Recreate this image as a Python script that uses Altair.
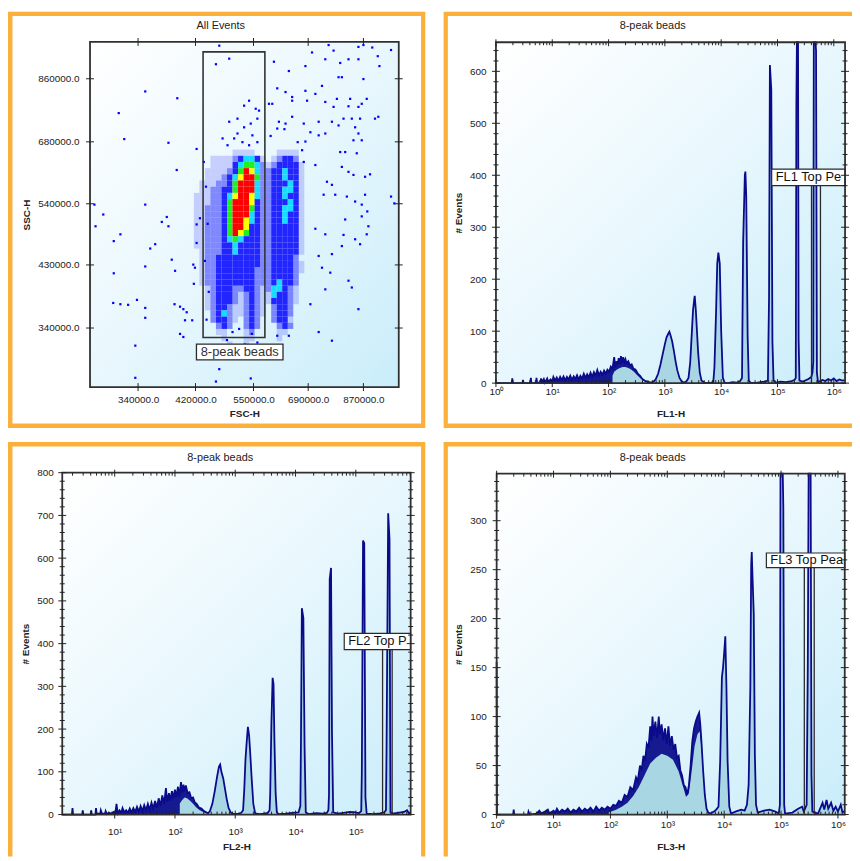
import altair as alt
import numpy as np
import pandas as pd

FONT = "Liberation Sans"
INK = "#222222"
NAVY = "#0A0A8A"
FILL = "#A9D6E3"
ORANGE = "#FBB03B"
BOXC = "#2a2a2a"

# ---------------- text ----------------
panel_titles = ["All Events", "8-peak beads", "8-peak beads", "8-peak beads"]
hist_x_titles = ["FL1-H", "FL2-H", "FL3-H"]
gate_labels = ["FL1 Top Peak", "FL2 Top Peak", "FL3 Top Peak"]
scatter_gate_label = "8-peak beads"
decade_labels = ["10⁰", "10¹", "10²", "10³", "10⁴", "10⁵", "10⁶"]

# ---------------- scatter (log10 units) ----------------
fsc_ticks = [5.529, 5.633, 5.738, 5.837, 5.937]
fsc_tick_labels = ["340000.0", "420000.0", "550000.0", "690000.0", "870000.0"]
ssc_ticks = [5.5315, 5.6335, 5.7324, 5.8325, 5.9345]
ssc_tick_labels = ["340000.0", "430000.0", "540000.0", "680000.0", "860000.0"]

fsc_bin_edges = [5.60, 5.61, 5.62, 5.63, 5.64, 5.65, 5.66, 5.67, 5.68, 5.69, 5.70, 5.71, 5.72, 5.73,
                 5.74, 5.75, 5.76, 5.77, 5.78, 5.79, 5.80, 5.81, 5.82, 5.83, 5.84, 5.85, 5.86]
ssc_bin_edges = [5.82, 5.81, 5.80, 5.79, 5.78, 5.77, 5.76, 5.75, 5.74, 5.73, 5.72, 5.71, 5.70, 5.69,
                 5.68, 5.67, 5.66, 5.65, 5.64, 5.63, 5.62, 5.61, 5.60, 5.59, 5.58, 5.57, 5.56, 5.55,
                 5.54, 5.53, 5.52, 5.51, 5.50]
# density level per cell: . sparse, : medium, b dense blue, c cyan, g green, y yellow, r red
density_rows = [
    "          ....    ....    ",
    "      ....:bccb. .:bb:    ",
    "      ....bcggc:.:bbbb.   ",
    "     ....:bgryc::bbcbb.   ",
    "     ...:bcyrrg::bbcbb.   ",
    "    ...::bgrrrc::bbbcb.   ",
    "    ..::bbgrrrc::bbccb.   ",
    "   ...::bcyrryc::bbcbb.   ",
    "   ...::bgrrryb::bbbcb.   ",
    "   ..:::bgrrrgb::bbccb.   ",
    "   ..:::bgrrrcb::bbcbb.   ",
    "   ..:::bgrrycb::bbcbb.   ",
    "   ..:::bgrrybb::bbbbb.   ",
    "   ..:::bgrygbb::bbbbb.   ",
    "   ..:::bcgcbbb::bbbbb.   ",
    "   ..:::bbcbbbb::bbbbb.   ",
    "    .:::bbcbbbb::bbbbb.   ",
    "    .::bbbbbbbb::bbbb:    ",
    "    .::bbbbbbbb::bbbb:.   ",
    "    .::bbbbbbb:::bbbb:.   ",
    "    .::bbbbbbb:::bbbb:    ",
    "    .::bbbbbbb:::bcbb:    ",
    "     .:bbb::bb:.:ccb:.    ",
    "     .:bbb:.:b:..cbb:.    ",
    "     .:bbb:.:b:..bbb:.    ",
    "     .:bb:..:b:. :bb:     ",
    "      :bc:..:b:. :bb:     ",
    "      :bb:. :b:  :bb.     ",
    "       :b:  :b:   :b:     ",
    "       ..   .:    ..      ",
    "        .   ..    .       ",
    "         .  .             ",
]
level_colors = {".": "#0000FF", ":": "#0000FF", "b": "#0000FF", "c": "#00D8FF",
                "g": "#20F020", "y": "#FFFF00", "r": "#FF0000"}
level_opacity = {".": 0.17, ":": 0.45, "b": 0.85, "c": 0.9, "g": 1.0, "y": 1.0, "r": 1.0}

outlier_points = [
    (5.676, 5.988), (5.694, 5.967), (5.670, 5.958), (5.542, 5.914), (5.600, 5.903), (5.494, 5.879),
    (5.504, 5.837), (5.584, 5.831), (5.635, 5.821), (5.599, 5.787), (5.542, 5.731), (5.450, 5.731),
    (5.466, 5.715), (5.452, 5.696), (5.581, 5.711), (5.572, 5.703), (5.584, 5.696), (5.485, 5.672),
    (5.497, 5.683), (5.551, 5.660), (5.560, 5.667), (5.542, 5.631), (5.485, 5.620), (5.590, 5.642),
    (5.596, 5.624), (5.629, 5.634), (5.632, 5.629), (5.630, 5.603), (5.484, 5.572), (5.497, 5.570),
    (5.511, 5.569), (5.527, 5.577), (5.542, 5.564), (5.542, 5.548), (5.595, 5.570), (5.605, 5.566),
    (5.611, 5.562), (5.617, 5.557), (5.614, 5.544), (5.605, 5.522), (5.611, 5.517), (5.627, 5.544),
    (5.524, 5.503), (5.524, 5.451), (5.676, 5.465), (5.670, 5.445), (5.733, 5.450), (5.635, 5.669),
    (5.641, 5.709), (5.635, 5.699), (5.709, 5.870), (5.721, 5.856), (5.730, 5.899), (5.742, 5.886),
    (5.748, 5.883), (5.745, 5.870), (5.721, 5.891), (5.694, 5.865), (5.703, 5.838), (5.718, 5.832),
    (5.730, 5.827), (5.691, 5.827), (5.736, 5.843), (5.709, 5.846), (5.745, 5.832), (5.682, 5.838),
    (5.733, 5.862), (5.775, 5.962), (5.802, 5.947), (5.874, 5.989), (5.883, 5.980), (5.928, 5.986),
    (5.937, 5.989), (5.953, 5.985), (5.987, 5.981), (5.844, 5.977), (5.868, 5.966), (5.895, 5.960),
    (5.910, 5.966), (5.928, 5.966), (5.963, 5.971), (5.966, 5.955), (5.832, 5.955), (5.892, 5.937),
    (5.898, 5.937), (5.937, 5.934), (5.781, 5.919), (5.796, 5.913), (5.808, 5.905), (5.808, 5.899),
    (5.832, 5.915), (5.835, 5.899), (5.850, 5.910), (5.862, 5.923), (5.868, 5.897), (5.889, 5.902),
    (5.883, 5.889), (5.910, 5.890), (5.913, 5.902), (5.928, 5.889), (5.934, 5.894), (5.931, 5.870),
    (5.943, 5.902), (5.958, 5.870), (5.964, 5.873), (5.796, 5.862), (5.781, 5.854), (5.784, 5.865),
    (5.766, 5.894), (5.772, 5.894), (5.808, 5.873), (5.829, 5.862), (5.856, 5.865), (5.880, 5.865),
    (5.892, 5.859), (5.901, 5.870), (5.916, 5.870), (5.922, 5.856), (5.928, 5.846), (5.934, 5.835),
    (5.919, 5.835), (5.868, 5.846), (5.856, 5.843), (5.841, 5.848), (5.832, 5.833), (5.769, 5.842),
    (5.794, 5.853), (5.818, 5.832), (5.895, 5.816), (5.904, 5.816), (5.925, 5.814), (5.826, 5.819),
    (5.829, 5.800), (5.850, 5.795), (5.898, 5.792), (5.910, 5.784), (5.919, 5.779), (5.940, 5.776),
    (5.949, 5.780), (5.871, 5.768), (5.880, 5.763), (5.886, 5.747), (5.865, 5.747), (5.907, 5.744),
    (5.922, 5.736), (5.934, 5.731), (5.940, 5.747), (5.987, 5.744), (5.944, 5.720), (5.904, 5.707),
    (5.934, 5.712), (5.946, 5.696), (5.850, 5.692), (5.868, 5.683), (5.901, 5.682), (5.922, 5.675),
    (5.931, 5.667), (5.943, 5.683), (5.898, 5.664), (5.880, 5.651), (5.856, 5.648), (5.862, 5.629),
    (5.877, 5.621), (5.910, 5.608), (5.916, 5.597), (5.868, 5.594), (5.841, 5.570), (5.928, 5.562),
    (5.856, 5.525), (5.880, 5.511), (5.802, 5.519), (5.781, 5.519), (5.993, 5.733),
    (5.652, 5.760), (5.655, 5.700), (5.650, 5.640), (5.657, 5.590), (5.653, 5.545), (5.648, 5.800),
    (5.700, 5.525), (5.712, 5.530), (5.735, 5.522), (5.690, 5.512), (5.745, 5.508), (5.722, 5.505),
]
scatter_gate = [5.6467, 5.7586, 5.5162, 5.9779]        # x0, x1, y0, y1
scatter_label_box = [5.6347, 5.7914, 5.4799, 5.5056]   # x0, x1, y0, y1

# ---------------- histograms (x = log10 channel value, y = events) ----------------
fl1_points = [
    (0.00, 0), (0.28, 0), (0.29, 9), (0.30, 0), (0.47, 0), (0.48, 6), (0.49, 0), (0.61, 0), (0.62, 10),
    (0.63, 0), (0.71, 0), (0.72, 10), (0.73, 1), (0.79, 1), (0.80, 9), (0.82, 2), (0.85, 8), (0.87, 1),
    (0.91, 9), (0.93, 2), (0.97, 7), (1.00, 3), (1.02, 12), (1.05, 5), (1.08, 11), (1.11, 4), (1.14, 12),
    (1.17, 6), (1.20, 13), (1.23, 5), (1.26, 12), (1.29, 7), (1.32, 14), (1.35, 6), (1.38, 13), (1.41, 8),
    (1.44, 15), (1.47, 7), (1.50, 14), (1.53, 9), (1.56, 18), (1.59, 10), (1.62, 17), (1.65, 11),
    (1.68, 20), (1.71, 12), (1.74, 21), (1.77, 14), (1.80, 25), (1.83, 15), (1.86, 22), (1.89, 16),
    (1.92, 24), (1.95, 18), (1.98, 26), (2.01, 22), (2.04, 32), (2.07, 28), (2.10, 50), (2.12, 30),
    (2.14, 42), (2.16, 35), (2.18, 48), (2.20, 36), (2.22, 52), (2.24, 38), (2.26, 50), (2.28, 40),
    (2.30, 46), (2.32, 38), (2.35, 42), (2.38, 34), (2.41, 36), (2.44, 28), (2.48, 26), (2.52, 18),
    (2.56, 14), (2.60, 8), (2.64, 5), (2.68, 3), (2.72, 2), (2.76, 1), (2.80, 3), (2.84, 8), (2.88, 18),
    (2.92, 35), (2.96, 55), (3.00, 75), (3.03, 88), (3.06, 95), (3.08, 99), (3.10, 92), (3.13, 80),
    (3.16, 62), (3.19, 42), (3.22, 25), (3.26, 10), (3.30, 3), (3.34, 1), (3.38, 3), (3.42, 10),
    (3.45, 40), (3.48, 100), (3.50, 140), (3.52, 160), (3.53, 168), (3.55, 140), (3.57, 100), (3.59, 60),
    (3.62, 20), (3.65, 5), (3.70, 1), (3.76, 0), (3.82, 1), (3.86, 2), (3.88, 30), (3.91, 140),
    (3.93, 230), (3.95, 251), (3.975, 230), (4.00, 100), (4.03, 10), (4.06, 1), (4.12, 0), (4.20, 2),
    (4.28, 1), (4.33, 3), (4.37, 10), (4.39, 270), (4.42, 400), (4.43, 407), (4.445, 360), (4.47, 90),
    (4.49, 5), (4.52, 1), (4.60, 0), (4.70, 2), (4.78, 3), (4.83, 5), (4.85, 165), (4.865, 612),
    (4.89, 565), (4.91, 80), (4.93, 5), (4.97, 1), (5.05, 3), (5.15, 2), (5.25, 4), (5.30, 6),
    (5.325, 10), (5.335, 535), (5.345, 720), (5.365, 720), (5.375, 85), (5.39, 5), (5.45, 3), (5.55, 8),
    (5.60, 12), (5.62, 20), (5.635, 40), (5.645, 720), (5.675, 720), (5.685, 640), (5.70, 20), (5.72, 2),
    (5.80, 6), (5.85, 4), (5.90, 8), (5.95, 5), (6.00, 9), (6.05, 4), (6.10, 7), (6.15, 5), (6.20, 6),
]
fl2_points = [
    (0.13, 0), (0.29, 0), (0.30, 15), (0.31, 0), (0.46, 0), (0.47, 10), (0.48, 0), (0.60, 0), (0.61, 10),
    (0.62, 0), (0.68, 0), (0.69, 15), (0.70, 2), (0.76, 2), (0.77, 10), (0.79, 2), (0.84, 2), (0.85, 8),
    (0.87, 1), (0.90, 4), (0.95, 2), (0.98, 6), (1.01, 2), (1.03, 25), (1.05, 3), (1.08, 10), (1.11, 4),
    (1.13, 15), (1.16, 5), (1.19, 10), (1.22, 4), (1.25, 14), (1.28, 5), (1.31, 15), (1.34, 6),
    (1.37, 18), (1.40, 7), (1.43, 20), (1.46, 8), (1.49, 22), (1.52, 10), (1.55, 25), (1.58, 11),
    (1.61, 28), (1.64, 14), (1.67, 32), (1.70, 16), (1.73, 38), (1.76, 20), (1.79, 45), (1.82, 25),
    (1.85, 62), (1.87, 30), (1.90, 50), (1.92, 32), (1.95, 55), (1.97, 38), (2.00, 58), (2.02, 40),
    (2.05, 65), (2.07, 42), (2.10, 76), (2.12, 50), (2.14, 70), (2.16, 55), (2.18, 68), (2.21, 50),
    (2.24, 52), (2.27, 38), (2.30, 40), (2.33, 28), (2.36, 25), (2.40, 16), (2.44, 14), (2.48, 8),
    (2.52, 5), (2.55, 3), (2.58, 8), (2.62, 25), (2.66, 55), (2.70, 90), (2.73, 112), (2.75, 117),
    (2.77, 100), (2.80, 85), (2.83, 60), (2.86, 35), (2.89, 15), (2.93, 4), (2.98, 1), (3.05, 2),
    (3.10, 4), (3.13, 10), (3.15, 60), (3.17, 130), (3.19, 170), (3.21, 205), (3.23, 185), (3.25, 140),
    (3.27, 90), (3.30, 25), (3.33, 3), (3.40, 1), (3.48, 2), (3.54, 4), (3.57, 10), (3.58, 50),
    (3.60, 215), (3.62, 320), (3.635, 305), (3.65, 173), (3.67, 50), (3.69, 5), (3.72, 1), (3.85, 2),
    (3.95, 4), (4.05, 5), (4.08, 20), (4.09, 170), (4.105, 483), (4.13, 460), (4.15, 160), (4.17, 5),
    (4.22, 1), (4.35, 3), (4.45, 2), (4.52, 4), (4.545, 10), (4.555, 45), (4.567, 551), (4.589, 577),
    (4.605, 190), (4.625, 5), (4.70, 2), (4.80, 4), (4.90, 6), (5.00, 5), (5.05, 3), (5.09, 8),
    (5.10, 100), (5.12, 641), (5.14, 635), (5.16, 40), (5.18, 2), (5.30, 1), (5.40, 3), (5.47, 5),
    (5.50, 10), (5.51, 155), (5.537, 705), (5.559, 645), (5.575, 5), (5.60, 2), (5.70, 4), (5.80, 6),
    (5.85, 10), (5.88, 3), (5.91, 5),
]
fl3_points = [
    (0.00, 156), (0.005, 0), (0.29, 0), (0.30, 5), (0.31, 0), (0.55, 0), (0.56, 3), (0.58, 0), (0.70, 1),
    (0.75, 4), (0.78, 1), (0.85, 3), (0.90, 5), (0.93, 1), (1.00, 4), (1.03, 2), (1.06, 6), (1.10, 2),
    (1.15, 5), (1.20, 3), (1.25, 6), (1.30, 2), (1.35, 5), (1.40, 3), (1.45, 7), (1.50, 3), (1.55, 6),
    (1.60, 4), (1.65, 7), (1.70, 3), (1.75, 8), (1.80, 4), (1.85, 7), (1.90, 5), (1.95, 8), (2.00, 6),
    (2.05, 10), (2.10, 9), (2.15, 14), (2.20, 12), (2.25, 20), (2.30, 18), (2.35, 28), (2.40, 25),
    (2.45, 38), (2.48, 34), (2.52, 50), (2.55, 45), (2.58, 60), (2.61, 55), (2.64, 72), (2.67, 68),
    (2.70, 90), (2.72, 75), (2.74, 100), (2.76, 80), (2.79, 95), (2.82, 78), (2.85, 100), (2.87, 82),
    (2.90, 92), (2.93, 76), (2.96, 88), (2.99, 72), (3.02, 90), (3.05, 70), (3.08, 80), (3.11, 66),
    (3.14, 72), (3.17, 58), (3.20, 60), (3.23, 45), (3.26, 40), (3.29, 30), (3.32, 28), (3.35, 20),
    (3.38, 30), (3.41, 50), (3.44, 75), (3.47, 88), (3.50, 95), (3.53, 100), (3.56, 104), (3.58, 92),
    (3.60, 75), (3.63, 45), (3.66, 20), (3.69, 6), (3.72, 2), (3.76, 1), (3.82, 3), (3.86, 5),
    (3.90, 8), (3.93, 55), (3.96, 140), (3.98, 150), (4.00, 165), (4.02, 182), (4.04, 130), (4.06, 55),
    (4.09, 8), (4.12, 1), (4.20, 3), (4.30, 5), (4.36, 4), (4.40, 10), (4.43, 30), (4.46, 130),
    (4.475, 255), (4.485, 268), (4.50, 240), (4.52, 205), (4.54, 60), (4.56, 10), (4.59, 2), (4.70, 4),
    (4.80, 5), (4.90, 3), (4.96, 1), (4.98, 10), (4.99, 360), (5.01, 360), (5.03, 360), (5.04, 313),
    (5.055, 10), (5.07, 1), (5.20, 2), (5.30, 6), (5.37, 8), (5.40, 3), (5.45, 10), (5.47, 150),
    (5.485, 360), (5.52, 360), (5.535, 40), (5.55, 3), (5.65, 1), (5.73, 12), (5.76, 5), (5.80, 15),
    (5.83, 6), (5.88, 12), (5.92, 4), (5.96, 8), (6.00, 3), (6.05, 10), (6.08, 2), (6.12, 4),
]
# top of the light fill under the noisy low-intensity humps (the dark band lies above it)
fl1_hump_fill = [(2.07, 14), (2.10, 22), (2.15, 26), (2.20, 29), (2.25, 31), (2.30, 31), (2.35, 29),
                 (2.40, 26), (2.45, 22), (2.50, 16), (2.55, 11), (2.60, 6), (2.66, 2)]
fl2_hump_fill = [(2.08, 26), (2.12, 34), (2.16, 40), (2.20, 38), (2.25, 32), (2.30, 25), (2.35, 17),
                 (2.40, 11), (2.45, 7), (2.52, 3)]
fl3_hump_fill = [(1.97, 2), (2.10, 5), (2.20, 8), (2.30, 12), (2.40, 19), (2.50, 28), (2.60, 40),
                 (2.70, 52), (2.80, 58), (2.90, 62), (3.00, 60), (3.10, 56), (3.20, 44), (3.27, 30),
                 (3.33, 18), (3.38, 22), (3.43, 45), (3.48, 70), (3.53, 82), (3.57, 85), (3.61, 62),
                 (3.65, 30), (3.69, 6), (3.72, 2)]
# x where the dark (dense-noise) region ends for each histogram
dark_end = [2.66, 2.52, 3.72]
# gate markers: [line_left, line_right], [box_left, box_bottom, box_top]
fl1_gate_lines = [5.604, 5.763]
fl1_gate_box = [4.897, 380, 412]
fl2_gate_lines = [5.444, 5.603]
fl2_gate_box = [4.808, 386, 424]
fl3_gate_lines = [5.409, 5.583]
fl3_gate_box = [4.742, 252, 267]

# ---------------- layout (cell pixel coordinates) ----------------
G_TL = dict(W=421, H=420, px0=82.7, px1=394.0, py0=30.7, py1=378.7, tx=214.5, ty=15, fx2=418.75, fy2=417.75,
            xlp=8, xtp=4, ylp=11, ytp=6)
G_TR = dict(W=412, H=420, px0=53.0, px1=405.0, py0=31.0, py1=374.7, tx=211, ty=15, fx2=440, fy2=417.75,
            xlp=3, xtp=13, ylp=10, ytp=6)
G_BL = dict(W=421, H=418, px0=54.7, px1=406.0, py0=31.0, py1=375.7, tx=214, ty=16, fx2=418.75, fy2=440,
            xlp=12, xtp=5, ylp=9, ytp=6)
G_BR = dict(W=412, H=418, px0=53.7, px1=404.7, py0=32.0, py1=375.7, tx=211, ty=16, fx2=440, fy2=440,
            xlp=5, xtp=12, ylp=10.5, ytp=6)

BG = alt.Gradient(gradient="linear", x1=0, y1=0, x2=1, y2=1,
                  stops=[alt.GradientStop(color="#FFFFFF", offset=0),
                         alt.GradientStop(color="#E8F7FD", offset=0.5),
                         alt.GradientStop(color="#C9EDFA", offset=1)])
ONE = pd.DataFrame({"a": [0]})


def mk_scale(dom, rng):
    return alt.Scale(domain=dom, range=rng, clamp=True, nice=False, zero=False)


def mk_axis(orient, values, label_expr, title, offset, lpad, tpad):
    kw = dict(orient=orient, values=values, title=title, offset=offset, ticks=False, tickSize=0,
              domain=False, grid=False, labelPadding=lpad, titlePadding=tpad,
              labelFont=FONT, labelFontSize=10, labelColor=INK, labelFlush=False, labelOverlap=False,
              titleFont=FONT, titleFontSize=10, titleFontWeight="bold", titleColor=INK)
    if label_expr:
        kw["labelExpr"] = label_expr
    return alt.Axis(**kw)


def chain_expr(vals, labels):
    expr = f"'{labels[-1]}'"
    for i in range(len(vals) - 2, -1, -1):
        mid = (vals[i] + vals[i + 1]) / 2
        expr = f"datum.value < {mid:.4f} ? '{labels[i]}' : ({expr})"
    return expr


def decorations(g, title):
    bg = alt.Chart(ONE).mark_rect(fill=BG, strokeWidth=0).encode(
        x=alt.value(g["px0"]), x2=alt.value(g["px1"]), y=alt.value(g["py0"]), y2=alt.value(g["py1"]))
    box = alt.Chart(ONE).mark_rect(fillOpacity=0, stroke="#303030", strokeWidth=1.8).encode(
        x=alt.value(g["px0"]), x2=alt.value(g["px1"]), y=alt.value(g["py0"]), y2=alt.value(g["py1"]))
    frame = alt.Chart(ONE).mark_rect(fillOpacity=0, stroke=ORANGE, strokeWidth=4.5, clip=True).encode(
        x=alt.value(2.25), x2=alt.value(g["fx2"]), y=alt.value(2.25), y2=alt.value(g["fy2"]))
    ttl = alt.Chart(ONE).mark_text(text=title, font=FONT, fontSize=11, color=INK, align="center",
                                   baseline="middle").encode(x=alt.value(g["tx"]), y=alt.value(g["ty"]))
    return bg, box, frame, ttl


def yrules(vals, Y, xa, xb):
    return alt.Chart(pd.DataFrame({"tv": vals})).mark_rule(color=INK, strokeWidth=1).encode(
        y=Y("tv"), x=alt.value(xa), x2=alt.value(xb))


def xrules(vals, X, ya, yb):
    return alt.Chart(pd.DataFrame({"tv": vals})).mark_rule(color=INK, strokeWidth=1).encode(
        x=X("tv"), y=alt.value(ya), y2=alt.value(yb))


# ---------------- scatter panel ----------------
def scatter_panel(g):
    sx = mk_scale([5.442, 6.001], [g["px0"], g["px1"]])
    sy = mk_scale([5.436, 5.994], [g["py1"], g["py0"]])
    ax = mk_axis("bottom", fsc_ticks, chain_expr(fsc_ticks, fsc_tick_labels), "FSC-H",
                 -(g["H"] - g["py1"]), g["xlp"], g["xtp"])
    ay = mk_axis("left", ssc_ticks, chain_expr(ssc_ticks, ssc_tick_labels), "SSC-H",
                 -g["px0"], g["ylp"], g["ytp"])
    X = lambda f: alt.X(f"{f}:Q", scale=sx, axis=ax)
    Y = lambda f: alt.Y(f"{f}:Q", scale=sy, axis=ay)

    cells = []
    for r, row in enumerate(density_rows):
        for c, ch in enumerate(row):
            if ch != " ":
                cells.append(dict(x=fsc_bin_edges[c], x2=fsc_bin_edges[c + 1],
                                  y=ssc_bin_edges[r], y2=ssc_bin_edges[r + 1],
                                  col=level_colors[ch], op=level_opacity[ch]))
    cells = pd.DataFrame(cells)
    grid = alt.Chart(cells).mark_rect(strokeWidth=0).encode(
        x=X("x"), x2="x2", y=Y("y"), y2="y2",
        color=alt.Color("col:N", scale=None), opacity=alt.Opacity("op:Q", scale=None))
    pts = pd.DataFrame(outlier_points, columns=["fsc", "ssc"])
    dots = alt.Chart(pts).mark_square(size=5, color="#0000FF", opacity=1).encode(x=X("fsc"), y=Y("ssc"))
    gdf = pd.DataFrame([dict(x=scatter_gate[0], x2=scatter_gate[1], y=scatter_gate[2], y2=scatter_gate[3])])
    gate = alt.Chart(gdf).mark_rect(fillOpacity=0, stroke="#333333", strokeWidth=1.6).encode(
        x=X("x"), x2="x2", y=Y("y"), y2="y2")
    ldf = pd.DataFrame([dict(x=scatter_label_box[0], x2=scatter_label_box[1],
                             y=scatter_label_box[2], y2=scatter_label_box[3],
                             cx=(scatter_label_box[0] + scatter_label_box[1]) / 2,
                             cy=(scatter_label_box[2] + scatter_label_box[3]) / 2,
                             t=scatter_gate_label)])
    lbox = alt.Chart(ldf).mark_rect(fill="white", stroke=BOXC, strokeWidth=1.3).encode(
        x=X("x"), x2="x2", y=Y("y"), y2="y2")
    ltxt = alt.Chart(ldf).mark_text(font=FONT, fontSize=13, color="#333333", align="center",
                                    baseline="middle").encode(x=X("cx"), y=Y("cy"), text="t:N")
    bg, box, frame, ttl = decorations(g, panel_titles[0])
    ticks = [
        yrules(ssc_ticks, Y, g["px0"] - 4, g["px0"] + 4),
        yrules(ssc_ticks, Y, g["px1"] - 4, g["px1"] + 4),
        xrules(fsc_ticks, X, g["py1"] - 4, g["py1"] + 4),
        xrules(fsc_ticks, X, g["py0"] - 4, g["py0"] + 4),
    ]
    return alt.layer(bg, grid, dots, gate, lbox, ltxt, box, *ticks, frame, ttl).properties(
        width=g["W"], height=g["H"])


# ---------------- histogram panels ----------------
def hist_panel(g, points, hump_fill, dark_to, xdom, ydom, decades, ymajor, yminor_step, xtitle, title,
               gate_lines, gate_box, gate_text):
    sx = mk_scale(xdom, [g["px0"], g["px1"]])
    sy = mk_scale(ydom, [g["py1"], g["py0"]])
    dexpr = "[" + ",".join(f"'{s}'" for s in decade_labels) + "][round(datum.value)]"
    ax = mk_axis("bottom", decades, dexpr, xtitle, -(g["H"] - g["py1"]), g["xlp"], g["xtp"])
    ay = mk_axis("left", ymajor, None, "# Events", -g["px0"], g["ylp"], g["ytp"])
    X = lambda f: alt.X(f"{f}:Q", scale=sx, axis=ax)
    Y = lambda f: alt.Y(f"{f}:Q", scale=sy, axis=ay)

    df = pd.DataFrame(points, columns=["lx", "n"])
    hf = pd.DataFrame(hump_fill, columns=["lx", "n"])
    area = alt.Chart(df).mark_area(color=FILL, opacity=1, interpolate="linear").encode(x=X("lx"), y=Y("n"))
    band = alt.Chart(df).transform_filter(alt.datum.lx <= dark_to).mark_area(
        color=NAVY, opacity=0.92, interpolate="linear").encode(x=X("lx"), y=Y("n"))
    under = alt.Chart(hf).mark_area(color=FILL, opacity=1, interpolate="linear").encode(x=X("lx"), y=Y("n"))
    line = alt.Chart(df).mark_line(color=NAVY, strokeWidth=1.8, interpolate="linear").encode(
        x=X("lx"), y=Y("n"))

    gl = pd.DataFrame({"gx": gate_lines, "y0": [0, 0], "y1": [gate_box[1], gate_box[1]]})
    glines = alt.Chart(gl).mark_rule(color=BOXC, strokeWidth=1.3).encode(x=X("gx"), y=Y("y0"), y2="y1")
    gb = pd.DataFrame([dict(x=gate_box[0], x2=xdom[1], y=gate_box[1], y2=gate_box[2],
                            cy=(gate_box[1] + gate_box[2]) / 2, t=gate_text)])
    gbox = alt.Chart(gb).mark_rect(fill="white", stroke=BOXC, strokeWidth=1.2).encode(
        x=X("x"), x2="x2", y=Y("y"), y2="y2")
    left_px = g["px0"] + (gate_box[0] - xdom[0]) / (xdom[1] - xdom[0]) * (g["px1"] - g["px0"])
    limit = g["px1"] - (left_px + 4)
    gtxt = alt.Chart(gb).mark_text(font=FONT, fontSize=13, color="#111111", align="left",
                                   baseline="middle", dx=4, limit=limit, ellipsis="\u200b").encode(
        x=X("x"), y=Y("cy"), text="t:N")

    yminor = [v for v in range(0, int(ydom[1]) + 1, yminor_step) if v not in ymajor]
    xminor = [d + float(np.log10(k)) for d in range(-1, 7) for k in range(2, 10)]
    xminor = [v for v in xminor if xdom[0] < v < xdom[1]]
    ticks = [
        yrules(ymajor, Y, g["px0"] - 4, g["px0"] + 4),
        yrules(yminor, Y, g["px0"] - 2.5, g["px0"] + 2.5),
        yrules(ymajor, Y, g["px1"] - 4, g["px1"] + 4),
        yrules(yminor, Y, g["px1"] - 2.5, g["px1"] + 2.5),
        xrules(decades, X, g["py1"] - 4, g["py1"] + 4),
        xrules(xminor, X, g["py1"] - 3, g["py1"]),
        xrules(decades, X, g["py0"] - 3, g["py0"] + 4),
        xrules(xminor, X, g["py0"], g["py0"] + 3),
    ]
    bg, box, frame, ttl = decorations(g, title)
    return alt.layer(bg, area, band, under, line, glines, gbox, gtxt, box, *ticks, frame, ttl).properties(
        width=g["W"], height=g["H"])


tl = scatter_panel(G_TL)
tr = hist_panel(G_TR, fl1_points, fl1_hump_fill, dark_end[0], [0.0, 6.2], [0, 656], [0, 1, 2, 3, 4, 5, 6],
                [0, 100, 200, 300, 400, 500, 600], 20, hist_x_titles[0], panel_titles[1],
                fl1_gate_lines, fl1_gate_box, gate_labels[0])
bl = hist_panel(G_BL, fl2_points, fl2_hump_fill, dark_end[1], [0.13, 5.91], [0, 800], [1, 2, 3, 4, 5],
                [0, 100, 200, 300, 400, 500, 600, 700, 800], 20, hist_x_titles[1], panel_titles[2],
                fl2_gate_lines, fl2_gate_box, gate_labels[1])
br = hist_panel(G_BR, fl3_points, fl3_hump_fill, dark_end[2], [0.0, 6.12], [0, 348], [0, 1, 2, 3, 4, 5, 6],
                [0, 50, 100, 150, 200, 250, 300], 10, hist_x_titles[2], panel_titles[3],
                fl3_gate_lines, fl3_gate_box, gate_labels[2])

chart = alt.vconcat(
    alt.hconcat(tl, tr, spacing=18),
    alt.hconcat(bl, br, spacing=18),
    spacing=14,
).properties(padding=0, background="white").configure_view(stroke=None)

chart.save("out.html", embed_options={"renderer": "svg", "actions": False})
